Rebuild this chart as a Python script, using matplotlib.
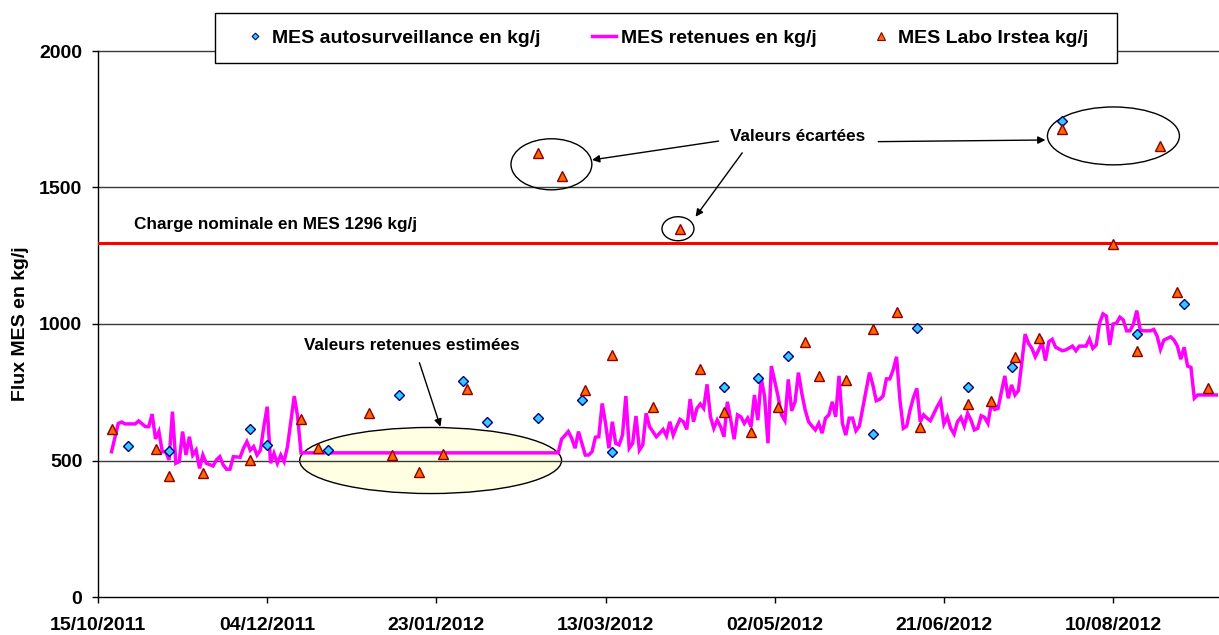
import datetime as dt
import matplotlib
matplotlib.use("Agg")
import matplotlib.pyplot as plt
import matplotlib.dates as mdates
from matplotlib.patches import Ellipse, Rectangle
from matplotlib.lines import Line2D

plt.rcParams["font.family"] = ["Liberation Sans", "DejaVu Sans"]
plt.rcParams["font.weight"] = "bold"
plt.rcParams["axes.labelweight"] = "bold"

START = dt.datetime(2011, 10, 15)

# ---- data (days since 15/10/2011, kg/j) ----
retenues_days = [4, 6, 7, 8, 11, 12, 14, 15, 16, 17, 18, 19, 20, 21, 22, 23, 24, 25, 26, 27,
                 28, 29, 30, 31, 32, 34, 35, 36, 37, 38, 39, 40, 42, 43, 44, 45, 46, 47, 48, 49,
                 50, 51, 52, 53, 54, 55, 56, 58, 59, 60, 136, 137, 139, 140, 141, 142, 143, 144,
                 145, 146, 147, 148, 149, 150, 151, 152, 153, 154, 155, 156, 157, 158, 159, 160,
                 161, 162, 163, 165, 166, 167, 168, 169, 170, 171, 172, 173, 174, 175, 176, 177,
                 178, 179, 180, 181, 182, 183, 184, 185, 186, 187, 188, 189, 190, 191, 192, 193,
                 194, 195, 196, 197, 198, 199, 201, 202, 203, 204, 205, 206, 207, 208, 209, 210,
                 211, 212, 213, 214, 215, 216, 217, 218, 219, 220, 221, 222, 223, 224, 225, 227,
                 228, 229, 230, 231, 232, 233, 234, 235, 236, 237, 238, 239, 240, 241, 242, 243,
                 244, 245, 246, 248, 249, 250, 251, 252, 253, 254, 255, 256, 257, 258, 259, 260,
                 261, 262, 263, 264, 265, 266, 267, 268, 269, 270, 271, 272, 273, 274, 275, 276,
                 277, 278, 279, 280, 281, 282, 283, 285, 286, 288, 289, 290, 292, 293, 294, 295,
                 296, 297, 298, 299, 300, 301, 302, 303, 304, 305, 306, 307, 308, 309, 311, 312,
                 313, 314, 315, 317, 318, 319, 320, 321, 322, 323, 324, 325, 331]
retenues_vals = [532, 636, 641, 634, 634, 645, 624, 624, 670, 579, 606, 532, 532, 502, 679, 490, 496, 606, 520, 587,
                 520, 538, 471, 520, 490, 480, 502, 514, 484, 468, 468, 514, 512, 545, 569, 538, 551, 520, 538, 624,
                 697, 490, 526, 490, 520, 496, 551, 736, 660, 528, 528, 578, 606, 581, 545, 606, 563, 520,
                 520, 532, 585, 587, 709, 636, 545, 642, 563, 557, 593, 736, 545, 563, 663, 538,
                 557, 673, 624, 587, 600, 614, 590, 642, 593, 624, 651, 642, 614, 725, 642, 691,
                 707, 691, 779, 660, 618, 648, 624, 587, 715, 648, 578, 667, 660, 636, 655, 624,
                 740, 648, 801, 734, 563, 846, 734, 667, 646, 797, 682, 715, 822, 746, 685, 642,
                 626, 612, 636, 600, 655, 667, 715, 660, 810, 636, 593, 655, 655, 609, 626, 758,
                 822, 777, 719, 724, 736, 799, 799, 832, 880, 722, 618, 626, 685, 731, 764, 642,
                 667, 655, 646, 697, 719, 634, 660, 618, 597, 642, 658, 626, 673, 648, 612, 618,
                 664, 658, 636, 707, 687, 691, 752, 810, 728, 777, 740, 756, 856, 963, 929, 911,
                 880, 905, 932, 866, 935, 944, 915, 902, 905, 919, 902, 919, 919, 945, 911, 923,
                 1003, 1037, 1029, 923, 1000, 1003, 1025, 1015, 975, 975, 1000, 1049, 978, 975, 975, 980,
                 956, 907, 941, 953, 941, 919, 871, 915, 846, 841, 728, 740, 740]

auto_days = [9, 21, 45, 50, 68, 89, 108, 115, 130, 143, 152, 185, 195, 204, 229, 242, 257, 270,
             285, 307, 321]
auto_vals = [552, 536, 615, 557, 538, 741, 790, 641, 657, 723, 530, 768, 801, 883, 597, 984, 770, 844,
             1744, 963, 1074]

labo_days = [4, 17, 21, 31, 45, 60, 65, 80, 87, 95, 102, 109, 130, 137, 144, 152, 164, 172, 178,
             185, 193, 201, 209, 213, 221, 229, 236, 243, 257, 264, 271, 278, 285, 300, 307, 314,
             319, 328]
labo_vals = [615, 541, 444, 455, 502, 652, 545, 675, 520, 459, 524, 761, 1626, 1542, 758, 885, 697, 1348, 836,
             679, 603, 695, 935, 810, 795, 981, 1044, 624, 706, 717, 880, 950, 1714, 1293, 902, 1652,
             1116, 767]

charge_nominale = 1296
tick_days = [0, 50, 100, 150, 200, 250, 300]
y_ticks = [0, 500, 1000, 1500, 2000]
x_end_day = 331

labels = ["MES autosurveillance en kg/j", "MES retenues en kg/j", "MES Labo Irstea kg/j"]

d0 = mdates.date2num(START)
def X(days):
    if isinstance(days, (list, tuple)):
        return [d0 + d for d in days]
    return d0 + days

W, H = 1219, 635
fig = plt.figure(figsize=(W / 100, H / 100), dpi=100)
ax = fig.add_axes([98 / W, 38 / H, 1120 / W, 546 / H])

ax.set_xlim(X(0), X(x_end_day))
ax.set_ylim(0, 2000)

# estimated values ellipse (filled)
ax.add_patch(Ellipse((X(98.3), 500), 77.4, 242, facecolor="#FFFFE3", edgecolor="black",
                     linewidth=1.0, zorder=1))

# gridlines
for yv in y_ticks[1:]:
    ax.axhline(yv, color="#3a3a3a", linewidth=1.0, zorder=1.5, clip_on=False)

ax.plot(X(retenues_days), retenues_vals, color="#FF00FF", linewidth=2.5, zorder=3,
        solid_joinstyle="miter")
ax.axhline(charge_nominale, color="#FF0000", linewidth=2.2, zorder=3)

ax.plot(X(auto_days), auto_vals, linestyle="none", marker="D", markersize=4.8,
        markerfacecolor="#33CCFF", markeredgecolor="#000080", markeredgewidth=1.0, zorder=4)
ax.plot(X(labo_days), labo_vals, linestyle="none", marker="^", markersize=7.5,
        markerfacecolor="#FF6600", markeredgecolor="#8B0000", markeredgewidth=1.0, zorder=4)

# discarded-values ellipses
for cx, cy, w, h in [(134.0, 1585, 23.9, 187), (171.4, 1349, 9.45, 88), (300.1, 1689, 39.0, 212)]:
    ax.add_patch(Ellipse((X(cx), cy), w, h, facecolor="none", edgecolor="black",
                         linewidth=1.0, zorder=3))

ann = dict(fontsize=12.3, fontweight="bold", color="black")
ax.text(X(10.6), 1363, "Charge nominale en MES 1296 kg/j", ha="left", va="center", **ann)
ax.text(X(92.7), 923, "Valeurs retenues estimées", ha="center", va="center", **ann)
ax.text(X(206.7), 1685, "Valeurs écartées", ha="center", va="center", **ann)

arrow = dict(arrowstyle="-|>", color="black", lw=1.0, mutation_scale=11, shrinkA=0, shrinkB=0)
for (x1, y1), (x2, y2) in [((183.4, 1670), (146.0, 1601)),
                           ((230.6, 1668), (280.0, 1674)),
                           ((190.4, 1627), (176.6, 1393)),
                           ((95.0, 858), (101.2, 624))]:
    ax.annotate("", xy=(X(x2), y2), xytext=(X(x1), y1), arrowprops=arrow, zorder=5)

# axes styling
for s in ["top", "right"]:
    ax.spines[s].set_visible(False)
for s in ["left", "bottom"]:
    ax.spines[s].set_color("black")
    ax.spines[s].set_linewidth(1.0)
ax.set_yticks(y_ticks)
ax.set_xticks(X(tick_days))
ax.xaxis.set_major_formatter(mdates.DateFormatter("%d/%m/%Y"))
ax.tick_params(axis="both", direction="out", length=4.3, width=1.0, labelsize=14,
               colors="black")
ax.tick_params(axis="y", pad=7)
ax.tick_params(axis="x", pad=10)
for lab in ax.get_xticklabels() + ax.get_yticklabels():
    lab.set_fontweight("bold")
ax.set_ylabel("Flux MES en kg/j", fontsize=14, fontweight="bold")
ax.yaxis.set_label_coords(-0.0616, 0.5)

# legend box
fig.add_artist(Rectangle((215 / W, 1 - 63 / H), 902 / W, 50 / H, transform=fig.transFigure,
                         facecolor="white", edgecolor="black", linewidth=1.0, zorder=2))
handles = [
    Line2D([], [], linestyle="none", marker="D", markersize=3.4, markerfacecolor="#33CCFF",
           markeredgecolor="#000080", markeredgewidth=0.8),
    Line2D([], [], color="#FF00FF", linewidth=2.5),
    Line2D([], [], linestyle="none", marker="^", markersize=5.5, markerfacecolor="#FF6600",
           markeredgecolor="#8B0000", markeredgewidth=0.8),
]
fig.legend(handles, labels, loc="center", bbox_to_anchor=(665.5 / W, 1 - 38 / H), ncol=3,
           frameon=False, prop={"size": 14, "weight": "bold"}, handlelength=1.23,
           handletextpad=0.26, columnspacing=2.67, borderpad=0.0)

fig.savefig("out.png", dpi=100)
